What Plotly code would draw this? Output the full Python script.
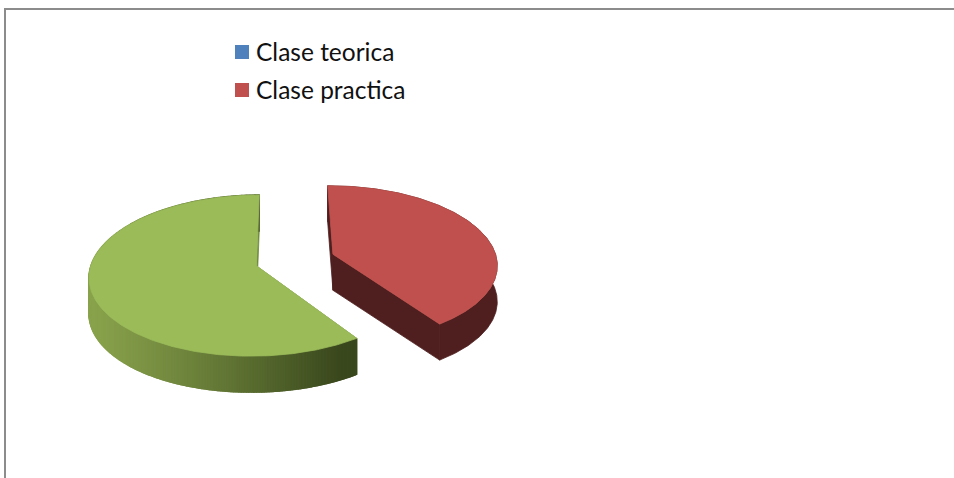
import math
import plotly.graph_objects as go

# ---- data ----
categories = ["Clase teorica", "Clase practica", "Otros"]
values = [0, 40.5, 59.5]
top_colors = ["#4F81BD", "#C0504D", "#9BBB59"]
legend_items = ["Clase teorica", "Clase practica"]
legend_rows = [52, 90]

# ---- projection of the tilted pie (pixels of the 954x478 page) ----
CX, CY = 295, 260
RX, RY = 164, 78
PERSP = 0.12
EXPLODE = 0.245
DEPTH = 36
START_DEG = -0.5
WALL_RED = "#4F1E1E"
WALL_LIGHT = (137, 163, 76)
WALL_DARK = (58, 72, 29)


def project(wx, wy, drop=0.0):
    d = 1 + PERSP * wy
    return CX + RX * wx / d, CY - RY * wy / d + drop


def slice_geometry(a0, a1):
    mid = math.radians((a0 + a1) / 2)
    ox, oy = EXPLODE * math.sin(mid), EXPLODE * math.cos(mid)
    n = max(int(abs(a1 - a0)) * 2, 2)
    angs = [a0 + (a1 - a0) * i / n for i in range(n + 1)]
    rim = [(ox + math.sin(math.radians(a)), oy + math.cos(math.radians(a))) for a in angs]
    return (ox, oy), rim


def poly(fig, pts, color, width=0.8):
    xs = [p[0] for p in pts] + [pts[0][0]]
    ys = [p[1] for p in pts] + [pts[0][1]]
    fig.add_trace(go.Scatter(x=xs, y=ys, mode="lines", fill="toself", fillcolor=color,
                             line=dict(color=color, width=width), hoverinfo="skip",
                             showlegend=False))


def wall(fig, p, q, color, width=0.8):
    poly(fig, [project(*p), project(*q), project(*q, DEPTH), project(*p, DEPTH)], color, width)


fig = go.Figure()

total = sum(values)
angle = START_DEG
slices = []
for name, val, col in zip(categories, values, top_colors):
    span = 360 * val / total
    if span > 0:
        slices.append((name, angle, angle + span, col))
    angle += span

for name, a0, a1, col in slices:
    apex, rim = slice_geometry(a0, a1)
    is_green = col == "#9BBB59"
    # radial cut walls
    for edge in (rim[0], rim[-1]):
        wall(fig, apex, edge, WALL_RED if not is_green else "#6F8A3C")
    # outer rim wall, shaded left to right on the green slice
    if is_green:
        xs_all = [project(*p)[0] for p in rim]
        xmin, xmax = min(xs_all), max(xs_all)
        for p, q in zip(rim[:-1], rim[1:]):
            t = ((project(*p)[0] - xmin) / (xmax - xmin)) ** 1.15
            t = min(1, t * 1.08)
            c = tuple(round(WALL_LIGHT[i] + (WALL_DARK[i] - WALL_LIGHT[i]) * t) for i in range(3))
            wall(fig, p, q, "rgb(%d,%d,%d)" % c, 1.4)
    else:
        upper = [project(*p) for p in rim]
        lower = [project(*p, DEPTH) for p in reversed(rim)]
        poly(fig, upper + lower, WALL_RED)
    poly(fig, [project(*apex)] + [project(*p) for p in rim], col)

# legend keys and labels
rows = iter(legend_rows)
for name, col in zip(categories, top_colors):
    if name in legend_items:
        row = next(rows)
        fig.add_trace(go.Scatter(x=[242], y=[row], mode="markers", name=name, hoverinfo="name",
                                 marker=dict(symbol="square", size=14, color=col), showlegend=False))
        fig.add_annotation(x=256, y=row, text=name, showarrow=False, xanchor="left", yanchor="middle",
                           xshift=-2, yshift=1, font=dict(family="Lato", size=24.5, color="#111111"))

frame = "#8C8C8C"
fig.update_layout(
    width=954, height=478, margin=dict(l=0, r=0, t=0, b=0),
    paper_bgcolor="white", plot_bgcolor="white",
    xaxis=dict(range=[0, 954], visible=False, fixedrange=True),
    yaxis=dict(range=[478, 0], visible=False, fixedrange=True),
    shapes=[
        dict(type="line", x0=5, x1=5, y0=9, y1=478, line=dict(color=frame, width=2)),
        dict(type="line", x0=4, x1=954, y0=9, y1=9, line=dict(color=frame, width=2)),
    ],
    showlegend=False,
)
fig.write_html("out.html", config={"displayModeBar": False},
               post_script="document.body.style.margin='0';document.body.style.overflow='hidden';")
